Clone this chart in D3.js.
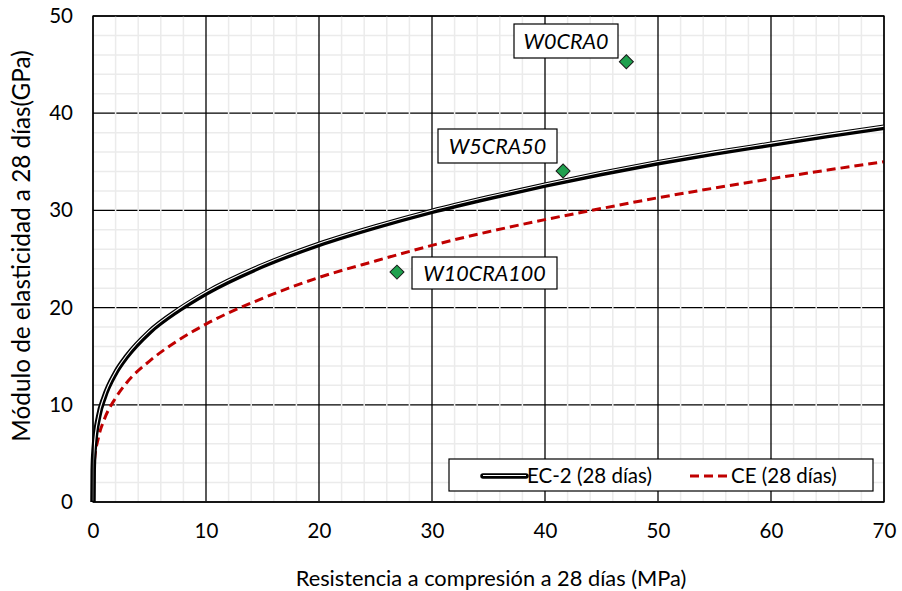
<!DOCTYPE html>
<html>
<head>
<meta charset="utf-8">
<script src="https://cdn.jsdelivr.net/npm/d3@7"></script>
<style>
  body { margin: 0; background: #fff; }
  svg { font-family: Lato, "Open Sans", sans-serif; }
</style>
</head>
<body>
<svg width="902" height="591"></svg>
<script>
// curve points
var fcX = [0, 0.02, 0.1, 0.5, 1, 2, 3, 5, 7.5, 10, 15, 20, 25, 30, 35, 40, 45, 50, 55, 60, 65, 70];
var ec2Y = [0, 3.3, 5.4, 8.8, 10.8, 13.3, 15.0, 17.5, 19.7, 21.5, 24.3, 26.5, 28.3, 29.9, 31.3, 32.6, 33.8, 34.9, 35.9, 36.8, 37.7, 38.55];
var ceY = [0, 2.3, 3.9, 6.7, 8.5, 10.7, 12.3, 14.5, 16.6, 18.3, 20.95, 23.1, 24.8, 26.4, 27.8, 29.05, 30.2, 31.3, 32.3, 33.25, 34.15, 35.0];

// mixes
var mixNames = ["W0CRA0", "W5CRA50", "W10CRA100"];
var mixFc = [47.2, 41.6, 26.9];
var mixE = [45.3, 34.05, 23.65];

var xTicks = [0, 10, 20, 30, 40, 50, 60, 70];
var yTicks = [0, 10, 20, 30, 40, 50];
var seriesNames = ["EC-2 (28 días)", "CE (28 días)"];

var margin = {left: 93, top: 16, right: 18, bottom: 89};
var width = 902, height = 591;
var svg = d3.select('svg');

var x = d3.scaleLinear().domain([0, 70]).range([margin.left, width - margin.right]);
var y = d3.scaleLinear().domain([0, 50]).range([height - margin.bottom, margin.top]);

// grid
var minorX = d3.range(0, 70.01, 2).filter(function(v){ return v % 10 != 0; });
var minorY = d3.range(0, 50.01, 2).filter(function(v){ return v % 10 != 0; });

svg.append('g').selectAll('line').data(minorY).enter().append('line')
  .attr('x1', x(0)).attr('x2', x(70))
  .attr('y1', y).attr('y2', y)
  .attr('stroke', '#ebebeb').attr('stroke-width', 1.5);
svg.append('g').selectAll('line').data(yTicks).enter().append('line')
  .attr('x1', x(0)).attr('x2', x(70))
  .attr('y1', y).attr('y2', y)
  .attr('stroke', '#000').attr('stroke-width', 1.3);
svg.append('g').selectAll('line').data(minorX).enter().append('line')
  .attr('y1', y(0)).attr('y2', y(50))
  .attr('x1', x).attr('x2', x)
  .attr('stroke', '#ebebeb').attr('stroke-width', 1.5);
svg.append('g').selectAll('line').data(xTicks).enter().append('line')
  .attr('y1', y(0)).attr('y2', y(50))
  .attr('x1', x).attr('x2', x)
  .attr('stroke', '#000').attr('stroke-width', 1.3);

// bottom axis line
svg.append('line')
  .attr('x1', x(0)).attr('x2', x(70)).attr('y1', y(0)).attr('y2', y(0))
  .attr('stroke', '#404040').attr('stroke-width', 2);

// curves
var line = d3.line().curve(d3.curveMonotoneX);
var ec2Pts = fcX.map(function(v, i){ return [x(v), y(ec2Y[i])]; });
var cePts = fcX.map(function(v, i){ return [x(v), y(ceY[i])]; });

svg.append('path').attr('d', line(cePts))
  .attr('fill', 'none').attr('stroke', '#c00000')
  .attr('stroke-width', 3).attr('stroke-dasharray', '9,5');

svg.append('path').attr('d', line(ec2Pts))
  .attr('fill', 'none').attr('stroke', '#000').attr('stroke-width', 5.5);
svg.append('path').attr('d', line(ec2Pts))
  .attr('transform', 'translate(0,-1.2)')
  .attr('fill', 'none').attr('stroke', '#fff').attr('stroke-width', 1.1);

// points
var mixes = mixNames.map(function(n, i){ return {name: n, fc: mixFc[i], e: mixE[i]}; });
svg.append('g').selectAll('path').data(mixes).enter().append('path')
  .attr('d', d3.symbol().type(d3.symbolSquare).size(98))
  .attr('transform', function(d){ return 'translate(' + x(d.fc) + ',' + y(d.e) + ') rotate(45)'; })
  .attr('fill', '#1fa04e').attr('stroke', '#1a1a1a').attr('stroke-width', 1);

// labels
var labelBoxes = [
  {cx: 566, cy: 41, w: 104, h: 34},
  {cx: 497.5, cy: 146, w: 119, h: 34},
  {cx: 484.5, cy: 273, w: 145, h: 32}
];
mixes.forEach(function(d, i){
  var b = labelBoxes[i];
  svg.append('rect')
    .attr('x', b.cx - b.w / 2).attr('y', b.cy - b.h / 2)
    .attr('width', b.w).attr('height', b.h)
    .attr('fill', '#fff').attr('stroke', '#000').attr('stroke-width', 1.2);
  svg.append('text')
    .attr('x', b.cx).attr('y', b.cy + 7.5)
    .attr('text-anchor', 'middle')
    .style('font-size', '21.5px').style('font-style', 'italic')
    .text(d.name);
});

// plot border
svg.append('rect')
  .attr('x', x(0)).attr('y', y(50))
  .attr('width', x(70) - x(0)).attr('height', y(0) - y(50))
  .attr('fill', 'none').attr('stroke', '#000').attr('stroke-width', 1.3);

// axes
var axisBottom = d3.axisBottom(x).tickValues(xTicks).tickSize(0).tickPadding(21);
var axisLeft = d3.axisLeft(y).tickValues(yTicks).tickSize(0).tickPadding(20);

var gx = svg.append('g')
  .attr('transform', 'translate(0,' + y(0) + ')')
  .call(axisBottom);
var gy = svg.append('g')
  .attr('transform', 'translate(' + x(0) + ',0)')
  .call(axisLeft);
[gx, gy].forEach(function(g){
  g.select('.domain').remove();
  g.selectAll('text').style('font-size', '20.5px').attr('fill', '#000')
    .style('font-family', 'Lato, "Open Sans", sans-serif');
});

// legend
var lg = svg.append('g');
lg.append('rect').attr('x', 449).attr('y', 459).attr('width', 424).attr('height', 32)
  .attr('fill', '#fff').attr('stroke', '#000').attr('stroke-width', 1.2);
lg.append('line').attr('x1', 483).attr('x2', 526).attr('y1', 476).attr('y2', 476)
  .attr('stroke', '#000').attr('stroke-width', 5.5).attr('stroke-linecap', 'round');
lg.append('line').attr('x1', 483).attr('x2', 526).attr('y1', 475.5).attr('y2', 475.5)
  .attr('stroke', '#fff').attr('stroke-width', 1.1);
lg.append('text').attr('x', 527).attr('y', 483).style('font-size', '20.5px').text(seriesNames[0]);
lg.append('line').attr('x1', 690).attr('x2', 728).attr('y1', 476).attr('y2', 476)
  .attr('stroke', '#c00000').attr('stroke-width', 3).attr('stroke-dasharray', '9,5');
lg.append('text').attr('x', 731).attr('y', 483).style('font-size', '20.5px').text(seriesNames[1]);

// axis titles
svg.append('text')
  .attr('x', 491).attr('y', 586)
  .attr('text-anchor', 'middle')
  .style('font-size', '21.8px')
  .text('Resistencia a compresión a 28 días (MPa)');

svg.append('text')
  .attr('transform', 'rotate(-90)')
  .attr('x', -246).attr('y', 30)
  .attr('text-anchor', 'middle')
  .style('font-size', '24.3px')
  .text('Módulo de elasticidad a 28 días(GPa)');
</script>
</body>
</html>
